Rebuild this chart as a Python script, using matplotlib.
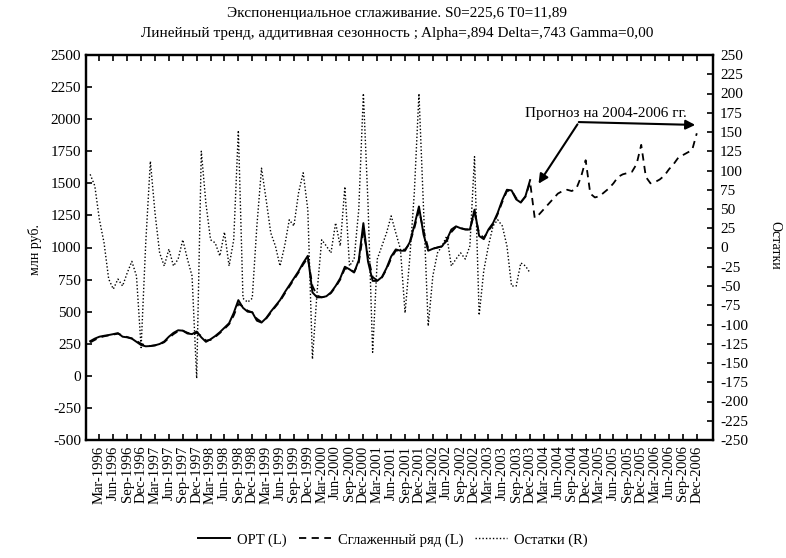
import matplotlib
matplotlib.use("Agg")
import matplotlib.pyplot as plt

plt.rcParams['font.family'] = ['Liberation Serif', 'DejaVu Serif']
plt.rcParams['axes.unicode_minus'] = False

# ---------------- data (monthly, index 0 = Jan-1996) ----------------
opt = [270, 290, 305, 312, 318, 325, 333, 305, 300, 290, 265, 240,
       230, 232, 238, 248, 268, 305, 335, 355, 352, 330, 325, 345,
       300, 265, 285, 310, 340, 375, 410, 490, 590, 530, 500, 495,
       430, 415, 450, 500, 545, 590, 650, 705, 760, 815, 880, 935,
       650, 612, 612, 620, 650, 700, 760, 850, 830, 805, 900, 1190,
       890, 740, 740, 770, 840, 930, 985, 975, 975, 1040, 1170, 1320,
       1100, 975, 990, 1000, 1010, 1060, 1140, 1165, 1150, 1140, 1140, 1295,
       1090, 1065, 1140, 1190, 1270, 1370, 1450, 1445, 1375, 1350, 1400, 1525]

smoothed = [260, 280, 298, 308, 315, 322, 328, 315, 302, 292, 272, 250,
            236, 233, 237, 246, 262, 295, 325, 348, 352, 336, 326, 335,
            310, 275, 280, 303, 333, 366, 402, 470, 560, 540, 508, 495,
            445, 420, 445, 492, 538, 582, 640, 695, 750, 805, 868, 920,
            700, 625, 612, 618, 645, 692, 750, 835, 832, 810, 880, 1120,
            930, 770, 742, 765, 830, 915, 975, 978, 985, 1030, 1150, 1290,
            1130, 995, 992, 1000, 1010, 1052, 1120, 1160, 1152, 1142, 1140, 1270,
            1110, 1075, 1130, 1180, 1260, 1355, 1440, 1445, 1385, 1355, 1395, 1510,
            # forecast 2004-2006
            1230, 1260, 1300, 1340, 1380, 1420, 1440, 1450, 1440, 1460, 1550, 1680,
            1420, 1390, 1400, 1430, 1460, 1500, 1550, 1570, 1580, 1590, 1650, 1800,
            1550, 1500, 1510, 1530, 1560, 1610, 1650, 1700, 1720, 1740, 1760, 1890]

residuals = [95, 80, 36, 6, -41, -54, -41, -50, -33, -18, -37, -130,
             6, 112, 45, -7, -24, -2, -24, -15, 10, -15, -37, -170,
             125, 57, 10, 6, -11, 20, -24, 10, 152, -66, -71, -66,
             28, 103, 62, 19, 2, -24, 2, 36, 28, 71, 97, 49,
             -145, -58, 10, 2, -7, 32, 2, 79, -24, -15, 49, 200,
             57, -136, -15, 2, 19, 41, 19, -2, -85, -15, 71, 200,
             49, -102, -37, -7, 2, 15, -24, -15, -7, -15, 2, 118,
             -88, -30, 2, 28, 36, 28, 2, -50, -50, -20, -24, -33]

month_names = ["Mar", "Jun", "Sep", "Dec"]
years = list(range(1996, 2007))
tick_labels = [f"{m}-{y}" for y in years for m in month_names]
tick_pos = [12 * (y - 1996) + k for y in years for k in (2, 5, 8, 11)]

title1 = "Экспоненциальное сглаживание. S0=225,6 T0=11,89"
title2 = "Линейный тренд, аддитивная сезонность ; Alpha=,894 Delta=,743 Gamma=0,00"

# ---------------- figure ----------------
fig = plt.figure(figsize=(7.86, 5.58), dpi=100)
ax = fig.add_axes([86 / 786, 1 - 440 / 558, 627 / 786, 385 / 558])
ax2 = ax.twinx()

l1, = ax.plot(range(len(opt)), opt, color='black', lw=1.4, ls='-', label='OPT (L)')
l2, = ax.plot(range(len(smoothed)), smoothed, color='black', lw=1.3,
              ls=(0, (4, 3)), label='Сглаженный ряд (L)')
l3, = ax2.plot(range(len(residuals)), residuals, color='black', lw=1.0,
               ls=(0, (1, 1.5)), label='Остатки (R)')

ax.set_xlim(-0.9, 134.5)
ax.set_ylim(-500, 2500)
ax.set_yticks(range(-500, 2501, 250))
ax2.set_ylim(-250, 250)
ax2.set_yticks(range(-250, 251, 25))

ax.set_xticks(tick_pos)
ax.set_xticklabels(tick_labels, rotation=90, fontsize=10.5)
ax.tick_params(axis='x', direction='in', top=True, length=4, width=1.2, pad=4)
ax.tick_params(axis='y', direction='in', length=4, width=1.2, labelsize=11)
ax2.tick_params(axis='y', direction='in', length=4, width=1.2, labelsize=11, pad=5)
for a in (ax, ax2):
    for s in a.spines.values():
        s.set_linewidth(1.6)

fig.text(0.505, 1 - 14 / 558, title1, ha='center', va='center', fontsize=11)
fig.text(0.505, 1 - 33 / 558, title2, ha='center', va='center', fontsize=11)
fig.text(35 / 786, 1 - 250 / 558, 'млн руб.', rotation=90, ha='center', va='center', fontsize=10)
fig.text(775 / 786, 1 - 245 / 558, 'Остатки', rotation=270, ha='center', va='center', fontsize=10)

# annotation
fig.text(606 / 786, 1 - 113 / 558, 'Прогноз на 2004-2006 гг.', ha='center', va='center', fontsize=11)
ax.annotate('', xy=(537, 558 - 186), xycoords='figure pixels',
            xytext=(579, 558 - 122), textcoords='figure pixels',
            arrowprops=dict(arrowstyle='-|>', color='black', lw=1.5, mutation_scale=14))
ax.annotate('', xy=(698, 558 - 125), xycoords='figure pixels',
            xytext=(576, 558 - 122), textcoords='figure pixels',
            arrowprops=dict(arrowstyle='-|>', color='black', lw=1.5, mutation_scale=14))

fig.legend(handles=[l1, l2, l3], loc='center', bbox_to_anchor=(0.5, 1 - 540 / 558),
           ncol=3, frameon=False, fontsize=10.5, handlelength=2.2, columnspacing=0.8,
           handletextpad=0.5)

fig.savefig('out.png', dpi=100)
